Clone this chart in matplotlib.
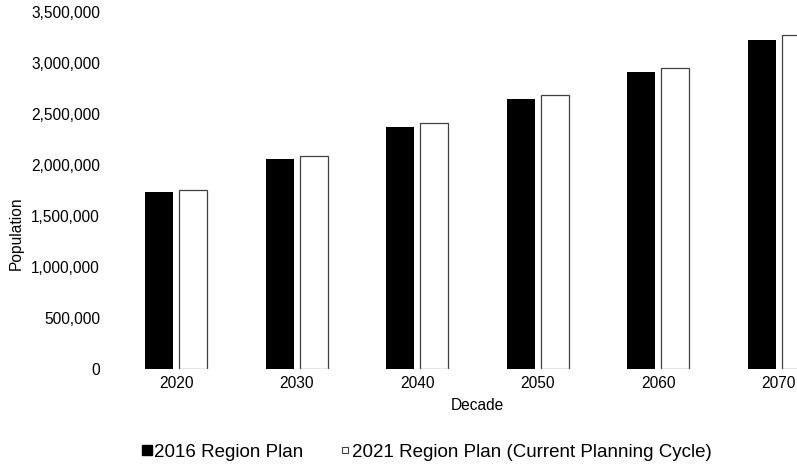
import matplotlib.pyplot as plt
from matplotlib.lines import Line2D
from matplotlib.ticker import FuncFormatter
import numpy as np

plt.rcParams['font.family'] = ['Liberation Sans', 'DejaVu Sans']

decades = ['2020', '2030', '2040', '2050', '2060', '2070']
plan_2016 = [1735000, 2060000, 2375000, 2648000, 2912000, 3225000]
plan_2021 = [1757000, 2088000, 2412000, 2686000, 2951000, 3275000]

fig = plt.figure(figsize=(7.97, 4.66), dpi=100)
ax = fig.add_axes([0.1455, 0.2082, 0.907, 0.766])

x = np.arange(len(decades))
w = 0.232
off = 0.141
ax.bar(x - off, plan_2016, w, color='black', edgecolor='black', linewidth=0)
ax.bar(x + off, plan_2021, w, color='white', edgecolor='#404040', linewidth=0.9)

ax.set_xlim(-0.5, len(decades) - 0.5)
ax.set_ylim(0, 3500000)
ax.set_yticks(np.arange(0, 3500001, 500000))
ax.yaxis.set_major_formatter(FuncFormatter(lambda v, p: f'{int(v):,}'))
ax.set_xticks(x)
ax.set_xticklabels(decades)
ax.tick_params(axis='y', length=0, pad=11.5, labelsize=11.2)
ax.tick_params(axis='x', length=0, pad=5, labelsize=11.2)
for s in ax.spines.values():
    s.set_visible(False)

ax.set_xlabel('Decade', fontsize=11.2, labelpad=5)
fig.text(0.02, 0.5, 'Population', rotation=90, fontsize=11.2,
         ha='center', va='center')

handles = [
    Line2D([], [], marker='s', linestyle='none', markersize=6.5,
           markerfacecolor='black', markeredgecolor='black'),
    Line2D([], [], marker='s', linestyle='none', markersize=5,
           markerfacecolor='white', markeredgecolor='#404040', markeredgewidth=0.8),
]
fig.legend(handles, ['2016 Region Plan', '2021 Region Plan (Current Planning Cycle)'],
           loc='center', bbox_to_anchor=(0.536, 0.03), ncol=2, frameon=False,
           fontsize=13.5, handlelength=0.5, handletextpad=0.1, columnspacing=2.0)

fig.savefig('out.png', dpi=100)
